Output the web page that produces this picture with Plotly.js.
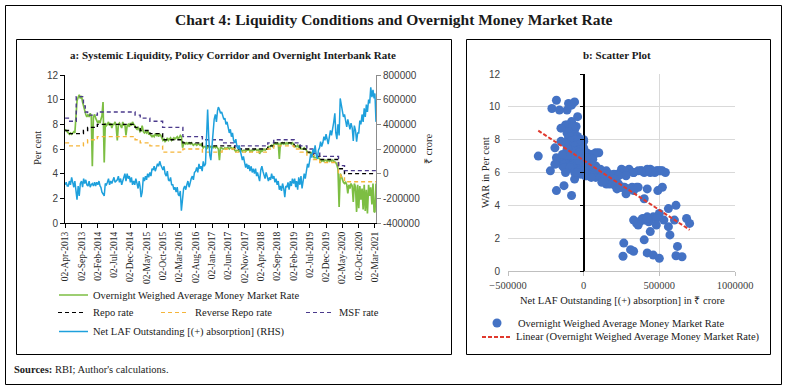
<!DOCTYPE html>
<html><head><meta charset="utf-8">
<script src="https://cdn.plot.ly/plotly-3.0.1.min.js"></script>
<style>html,body{margin:0;padding:0;background:#fff}#chart{width:788px;height:388px}</style>
</head><body><div id="chart"></div>
<script>
// ---------- DATA ----------
const months = [
"2013-04","2013-05","2013-06","2013-07","2013-08","2013-09","2013-10","2013-11","2013-12",
"2014-01","2014-02","2014-03","2014-04","2014-05","2014-06","2014-07","2014-08","2014-09","2014-10","2014-11","2014-12",
"2015-01","2015-02","2015-03","2015-04","2015-05","2015-06","2015-07","2015-08","2015-09","2015-10","2015-11","2015-12",
"2016-01","2016-02","2016-03","2016-04","2016-05","2016-06","2016-07","2016-08","2016-09","2016-10","2016-11","2016-12",
"2017-01","2017-02","2017-03","2017-04","2017-05","2017-06","2017-07","2017-08","2017-09","2017-10","2017-11","2017-12",
"2018-01","2018-02","2018-03","2018-04","2018-05","2018-06","2018-07","2018-08","2018-09","2018-10","2018-11","2018-12",
"2019-01","2019-02","2019-03","2019-04","2019-05","2019-06","2019-07","2019-08","2019-09","2019-10","2019-11","2019-12",
"2020-01","2020-02","2020-03","2020-04","2020-05","2020-06","2020-07","2020-08","2020-09","2020-10","2020-11","2020-12",
"2021-01","2021-02","2021-03"];
const sampleDays = ["02","12","22"];

// Overnight weighted average money market rate (per cent)
const war = [
// 2013 Apr-Dec
7.6,7.5,7.4, 7.3,7.2,7.3, 7.2,7.3,7.4, 7.3,8.9,9.9, 10.2,10.4,10.1, 10.3,9.8,9.4, 9.1,8.8,8.6, 8.8,8.6,8.9, 8.7,4.6,8.6,
// 2014
8.8,8.5,8.3, 8.1,8.3,8.1, 8.4,8.7,9.8, 4.9,8.1,7.9, 8.0,8.2,7.9, 8.1,7.7,8.0, 8.0,8.2,7.9, 6.7,8.0,8.1, 7.9,7.7,8.2, 7.9,8.0,7.1, 7.9,8.0,7.8, 8.1,7.9,8.2,
// 2015
8.0,7.9,7.7, 7.6,7.8,7.6, 7.4,7.5,7.9, 7.4,7.3,7.4, 7.3,7.5,7.2, 7.2,7.1,7.0, 7.1,7.0,7.2, 7.1,7.2,7.0, 7.2,7.1,6.9, 6.7,6.8,6.6, 6.7,6.9,6.7, 6.8,6.9,6.7,
// 2016
6.8,6.9,6.8, 6.9,7.0,6.8, 6.9,7.1,7.0, 6.1,6.4,6.5, 6.4,6.5,6.4, 6.5,6.4,6.5, 6.4,6.3,6.4, 6.4,6.3,6.4, 6.4,6.3,6.4, 6.2,6.1,6.2, 6.2,6.0,6.1, 6.2,6.1,6.2,
// 2017
6.2,6.1,6.2, 6.1,6.2,6.1, 6.0,5.1,6.1, 6.1,6.0,6.0, 6.1,6.0,6.1, 6.1,6.0,6.1, 6.1,6.0,6.1, 5.9,5.8,5.9, 5.9,5.8,5.9, 5.9,5.8,5.9, 5.9,5.8,5.9, 5.9,6.0,5.8,
// 2018
5.9,5.8,5.9, 5.9,6.0,5.9, 5.9,6.0,5.6, 5.9,5.8,5.9, 6.0,5.9,6.0, 6.0,6.2,6.2, 6.2,6.3,6.2, 6.4,6.5,6.4, 6.4,6.5,5.2, 6.5,6.4,6.5, 6.4,6.5,6.4, 6.5,6.4,6.5,
// 2019
6.5,6.4,6.5, 6.4,6.2,6.2, 6.2,6.3,6.1, 6.3,6.0,6.0, 6.0,6.1,6.0, 5.9,5.7,5.7, 5.7,5.6,5.7, 5.6,5.3,5.3, 5.3,5.4,5.3, 5.2,5.1,5.0, 5.1,5.0,5.1, 5.1,5.0,5.1,
// 2020
5.0,5.1,5.0, 5.1,5.0,4.9, 4.9,4.7,4.4, 1.3,4.0,3.8, 3.5,3.3,3.2, 3.3,3.1,2.4, 3.1,2.8,3.2, 3.0,1.7,3.2, 2.9,0.9,3.1, 1.2,3.0,1.9, 2.8,1.1,3.1, 0.97,2.7,0.77,
// 2021 Jan-Mar
3.1,2.2,2.9, 1.5,3.2,0.93, 0.87,3.2];

// Net LAF outstanding, (+) absorption, Rs crore
const lafCrore = [
// 2013 Apr-Dec
-90000,-70000,-100000, -100000,-60000,-90000, -30000,-70000,-110000, -60000,-120000,-210000, -100000,-180000,-80000, -60000,-110000,-40000, -80000,-50000,-90000, -100000,-60000,-110000, -90000,-80000,-100000,
// 2014
-70000,-100000,-70000, -90000,-60000,-100000, -110000,-150000,-160000, -180000,-80000,-90000, -70000,-40000,-90000, -60000,-80000,-50000, -30000,-70000,-60000, -50000,-20000,-70000, -40000,-90000,-60000, -30000,0,-60000, 0,-40000,-20000, -70000,-30000,-90000,
// 2015
-60000,-90000,-40000, -80000,-120000,-60000, -100000,-190000,-150000, -30000,-60000,-20000, -50000,0,-30000, 10000,-20000,40000, 30000,60000,20000, 50000,80000,60000, 100000,70000,40000, 30000,60000,0, -20000,20000,-50000, -60000,-30000,-90000,
// 2016
-90000,-130000,-110000, -150000,-110000,-170000, -180000,-140000,-300000, -220000,-120000,-100000, -130000,-90000,-60000, -110000,-70000,-40000, -20000,-50000,10000, 20000,50000,10000, 80000,40000,60000, 20000,100000,60000, 80000,250000,520000, 300000,150000,110000,
// 2017
250000,380000,440000, 480000,420000,510000, 540000,520000,490000, 500000,470000,440000, 450000,400000,420000, 380000,330000,360000, 300000,330000,270000, 250000,280000,220000, 200000,230000,170000, 150000,110000,140000, 90000,50000,80000, 40000,70000,20000,
// 2018
60000,10000,40000, 0,40000,-20000, 10000,-40000,-60000, 30000,60000,20000, -10000,-40000,10000, -20000,-60000,-30000, -50000,0,-40000, -20000,-70000,-40000, -90000,-60000,-130000, -100000,-140000,-80000, -120000,-190000,-100000, -110000,-70000,-130000,
// 2019
-60000,-100000,-40000, -80000,-40000,-110000, -60000,-130000,-30000, -90000,-20000,-120000, -60000,0,-40000, 20000,80000,50000, 110000,160000,130000, 200000,170000,230000, 150000,120000,190000, 210000,260000,220000, 250000,300000,270000, 320000,280000,240000,
// 2020
300000,350000,310000, 360000,420000,490000, 330000,280000,400000, 310000,610000,560000, 500000,460000,480000, 420000,380000,440000, 400000,360000,410000, 370000,265000,390000, 350000,260000,330000, 330000,430000,400000, 480000,420000,530000, 460000,560000,500000,
// 2021 Jan-Mar
600000,570000,700000, 620000,680000,610000, 650000,420000];

// Policy corridor (change dates and rates, per cent)
const repoDates = ["2013-04-02","2013-05-03","2013-09-20","2013-10-29","2014-01-28","2015-01-15","2015-03-04","2015-06-02","2015-09-29","2016-04-05","2016-10-04","2017-08-02","2018-06-06","2018-08-01","2019-02-07","2019-04-04","2019-06-06","2019-08-07","2019-10-04","2020-03-27","2020-05-22"];
const repoRate  = [7.5,7.25,7.5,7.75,8.0,7.75,7.5,7.25,6.75,6.5,6.25,6.0,6.25,6.5,6.25,6.0,5.75,5.4,5.15,4.4,4.0];
const revRepoDates = ["2013-04-02","2013-05-03","2013-09-20","2013-10-29","2014-01-28","2015-01-15","2015-03-04","2015-06-02","2015-09-29","2016-04-05","2016-10-04","2017-04-06","2017-08-02","2018-06-06","2018-08-01","2019-02-07","2019-04-04","2019-06-06","2019-08-07","2019-10-04","2020-03-27","2020-04-17","2020-05-22"];
const revRepoRate  = [6.5,6.25,6.5,6.75,7.0,6.75,6.5,6.25,5.75,6.0,5.75,6.0,5.75,6.0,6.25,6.0,5.75,5.5,5.15,4.9,4.0,3.75,3.35];
const msfDates = ["2013-04-02","2013-05-03","2013-07-15","2013-09-20","2013-10-07","2013-10-29","2014-01-28","2015-01-15","2015-03-04","2015-06-02","2015-09-29","2016-04-05","2016-10-04","2017-04-06","2017-08-02","2018-06-06","2018-08-01","2019-02-07","2019-04-04","2019-06-06","2019-08-07","2019-10-04","2020-03-27","2020-05-22"];
const msfRate  = [8.5,8.25,10.25,9.5,9.0,8.75,9.0,8.75,8.5,8.25,7.75,7.0,6.75,6.5,6.25,6.5,6.75,6.5,6.25,6.0,5.65,5.4,4.65,4.25];

const seriesEnd = "2021-03-12";
const dateTicks = ["2013-04-02","2013-09-02","2014-02-02","2014-07-02","2014-12-02","2015-05-02","2015-10-02","2016-03-02","2016-08-02","2017-01-02","2017-06-02","2017-11-02","2018-04-02","2018-09-02","2019-02-02","2019-07-02","2019-12-02","2020-05-02","2020-10-02","2021-03-02"];
const dateTickText = ["02-Apr-2013","02-Sep-2013","02-Feb-2014","02-Jul-2014","02-Dec-2014","02-May-2015","02-Oct-2015","02-Mar-2016","02-Aug-2016","02-Jan-2017","02-Jun-2017","02-Nov-2017","02-Apr-2018","02-Sep-2018","02-Feb-2019","02-Jul-2019","02-Dec-2019","02-May-2020","02-Oct-2020","02-Mar-2021"];
const lafTicks = [-400000,-200000,0,200000,400000,600000,800000];

// ---------- BUILD ----------
const n = Math.min(war.length, lafCrore.length);
const dates = months.flatMap(m => sampleDays.map(d => m + "-" + d)).slice(0, n);
const W = 788, H = 388;
const SERIF = "Liberation Serif, Times New Roman, serif";
const SANS = "Liberation Sans, Arial, sans-serif";
const px = v => v / W, py = v => 1 - v / H;

function step(ds, rs) { return {x: ds.concat([seriesEnd]), y: rs.concat([rs[rs.length-1]])}; }
const rp = step(repoDates, repoRate), rr = step(revRepoDates, revRepoRate), ms = step(msfDates, msfRate);

// least-squares linear trend (as Excel's linear trendline)
let sx=0, sy=0, sxx=0, sxy=0;
for (let i=0;i<n;i++){ sx+=lafCrore[i]; sy+=war[i]; sxx+=lafCrore[i]*lafCrore[i]; sxy+=lafCrore[i]*war[i]; }
const slope = (n*sxy - sx*sy) / (n*sxx - sx*sx);
const icpt = (sy - slope*sx) / n;
const xmin = Math.min(...lafCrore.slice(0,n)), xmax = Math.max(...lafCrore.slice(0,n));

const GREEN="#7DBE43", BLUE="#1EA0DC", ORANGE="#F5B53A", PURPLE="#4B3A8C", DOT="#4472C4", RED="#E0392E";
const DASH = "4px,3px";

const traces = [
 {x: dates, y: war.slice(0,n), xaxis:"x", yaxis:"y", mode:"lines", line:{color:GREEN, width:1.7}},
 {x: rp.x, y: rp.y, xaxis:"x", yaxis:"y", mode:"lines", line:{color:"#000", width:1.4, dash:DASH, shape:"hv"}},
 {x: rr.x, y: rr.y, xaxis:"x", yaxis:"y", mode:"lines", line:{color:ORANGE, width:1.4, dash:DASH, shape:"hv"}},
 {x: ms.x, y: ms.y, xaxis:"x", yaxis:"y", mode:"lines", line:{color:PURPLE, width:1.4, dash:DASH, shape:"hv"}},
 {x: dates, y: lafCrore.slice(0,n), xaxis:"x", yaxis:"y2", mode:"lines", line:{color:BLUE, width:1.5}},
 {x: lafCrore.slice(0,n), y: war.slice(0,n), xaxis:"x2", yaxis:"y3", mode:"markers", marker:{color:DOT, size:9}},
 {x: [xmin, xmax], y: [icpt + slope*xmin, icpt + slope*xmax], xaxis:"x2", yaxis:"y3", mode:"lines", line:{color:RED, width:2, dash:"4px,2px"}},
 {x: [], y: [], xaxis:"x2", yaxis:"y4", mode:"markers"}
];

const xd1 = [px(65), px(376)], yd1 = [py(223), py(75)];
const xd2 = [px(508), px(735)], yd2 = [py(271), py(74)];
const zeroPos = xd2[0] + (xd2[1]-xd2[0]) / 3;

const frame = (x0,y0,x1,y1,w) => ({type:"rect", xref:"paper", yref:"paper", x0:px(x0), x1:px(x1), y0:py(y1), y1:py(y0), line:{color:"#000", width:w}});
const lseg = (x0,x1,y,color,dash,w) => ({type:"line", xref:"paper", yref:"paper", x0:px(x0), x1:px(x1), y0:py(y), y1:py(y), line:{color, width:w||1.5, dash:dash||"solid"}});
const txt = (x,y,text,opts) => Object.assign({xref:"paper", yref:"paper", x:px(x), y:py(y), text, showarrow:false, xanchor:"left", yanchor:"middle", font:{family:SERIF, size:10.5, color:"#1a1a1a"}}, opts||{});

const shapes = [
 frame(5.5,5.5,781.5,384.5,1),
 frame(16.5,39.5,451.5,354.5,1),
 frame(466.5,39.5,770.5,354.5,1),
 lseg(59,88,295,GREEN,"solid",1.5),
 lseg(58,86,312.5,"#000",DASH,1.2),
 lseg(161,189,312.5,ORANGE,DASH,1.2),
 lseg(306,332,312.5,PURPLE,DASH,1.2),
 lseg(59,88,331.5,BLUE,"solid",1.5),
 {type:"circle", xref:"paper", yref:"paper", x0:px(492.5), x1:px(501.5), y0:py(327.5), y1:py(318.5), fillcolor:DOT, line:{width:0}},
 lseg(482,512,337,RED,"4px,2px",2)
];

const annotations = [
 txt(394,19,"<b>Chart 4: Liquidity Conditions and Overnight Money Market Rate</b>",{xanchor:"center", font:{family:SERIF, size:15.5, color:"#1a1a1a"}}),
 txt(233,55,"<b>a: Systemic Liquidity, Policy Corridor and Overnight Interbank Rate</b>",{xanchor:"center", font:{family:SERIF, size:11, color:"#1a1a1a"}}),
 txt(617,55,"<b>b: Scatter Plot</b>",{xanchor:"center", font:{family:SERIF, size:11, color:"#1a1a1a"}}),
 txt(37,148,"Per cent",{xanchor:"center", textangle:-90, font:{family:SERIF, size:10.5, color:"#262626"}}),
 txt(428,148,"₹ crore",{xanchor:"center", textangle:-90, font:{family:SERIF, size:10.5, color:"#262626"}}),
 txt(91,295,"Overnight Weighed Average Money Market Rate"),
 txt(91,312.5,"Repo rate"),
 txt(193,312.5,"Reverse Repo rate"),
 txt(337,312.5,"MSF rate"),
 txt(91,331.5,"Net LAF Outstanding [(+) absorption] (RHS)"),
 txt(485,173,"WAR in Per cent",{xanchor:"center", textangle:-90, font:{family:SERIF, size:10.5, color:"#262626"}}),
 txt(622,301,"Net LAF Outstanding [(+) absorption] in ₹ crore",{xanchor:"center"}),
 txt(516,323,"Overnight Weighed Average Money Market Rate"),
 txt(514,337,"Linear (Overnight Weighed Average Money Market Rate)"),
 txt(12,369,"<b>Sources:</b> RBI; Author's calculations.",{font:{family:SERIF, size:10.5, color:"#1a1a1a"}})
];

const layout = {
 width: W, height: H, margin:{l:0,r:0,t:0,b:0}, paper_bgcolor:"#fff", plot_bgcolor:"rgba(0,0,0,0)",
 showlegend:false, hovermode:false,
 xaxis:{domain:xd1, anchor:"y", type:"date", range:["2013-04-01", seriesEnd], tickvals:dateTicks, ticktext:dateTickText, tickangle:-90,
   tickfont:{family:SERIF, size:9.5, color:"#262626"}, showgrid:false, zeroline:false, showline:true, linecolor:"#000", linewidth:1,
   ticks:"outside", ticklen:4, tickcolor:"#000"},
 yaxis:{domain:yd1, anchor:"x", range:[0,12], dtick:2, tickfont:{family:SANS, size:10, color:"#404040"}, showgrid:false, zeroline:false,
   showline:true, linecolor:"#000", linewidth:1, ticks:"outside", ticklen:4, tickcolor:"#000"},
 yaxis2:{domain:yd1, anchor:"x", overlaying:"y", side:"right", range:[-400000,800000], tickvals:lafTicks, ticktext:lafTicks.map(String),
   tickfont:{family:SANS, size:10, color:"#404040"}, showgrid:false, zeroline:false, showline:true, linecolor:"#8c8c8c", linewidth:1,
   ticks:"outside", ticklen:4, tickcolor:"#8c8c8c"},
 xaxis2:{domain:xd2, anchor:"y3", range:[-500000,1000000], dtick:500000, tickformat:"d", tickfont:{family:SERIF, size:10.5, color:"#404040"},
   showgrid:true, gridcolor:"#d9d9d9", gridwidth:1, zeroline:true, zerolinecolor:"#000", zerolinewidth:1,
   showline:true, linecolor:"#bfbfbf", ticks:"outside", ticklen:4, tickcolor:"#bfbfbf"},
 yaxis3:{domain:yd2, anchor:"x2", range:[0,12], dtick:2, tickfont:{family:SANS, size:10, color:"#404040"},
   showgrid:true, gridcolor:"#d9d9d9", gridwidth:1, zeroline:false, showline:false, ticks:"outside", ticklen:5, tickcolor:"rgba(0,0,0,0)"},
 yaxis4:{domain:yd2, anchor:"free", position:zeroPos, overlaying:"y3", range:[0,12], dtick:2, showticklabels:false, showgrid:false, zeroline:false,
   showline:true, linecolor:"#000", linewidth:1, ticks:"outside", ticklen:4, tickcolor:"#000"},
 shapes, annotations
};

Plotly.newPlot("chart", traces, layout, {staticPlot:true, displayModeBar:false});
</script></body></html>
